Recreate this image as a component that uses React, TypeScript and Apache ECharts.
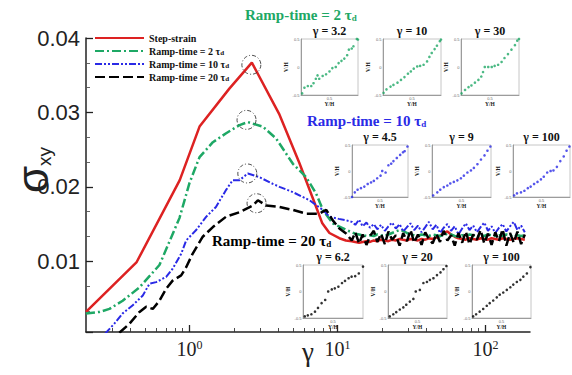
import React, { useEffect, useRef } from 'react';
import * as echarts from 'echarts';

// ---------- main curves (shear stress vs strain) ----------
const RED_X = [0.2, 0.44, 0.86, 1.17, 1.86, 2.64, 4.06, 5.53, 7.18, 7.9, 8.83, 10.3, 11.4];
const RED_Y = [0.0032, 0.0099, 0.0209, 0.0281, 0.0332, 0.0367, 0.0297, 0.0232, 0.0173, 0.0151, 0.0138, 0.0131, 0.0128];

const GREEN_X = [0.2, 0.247, 0.288, 0.354, 0.46, 0.627, 0.856, 1.0, 1.17, 1.44, 1.77, 2.18, 2.48, 3.13, 3.85, 5.0, 6.15, 7.18, 7.97, 9.3, 11.5];
const GREEN_Y = [0.003, 0.0032, 0.0036, 0.0047, 0.0065, 0.0095, 0.0158, 0.0205, 0.024, 0.026, 0.0272, 0.0283, 0.0287, 0.0281, 0.0265, 0.0231, 0.0213, 0.0191, 0.0169, 0.0151, 0.0142];

const BLUE_X = [0.27, 0.31, 0.354, 0.414, 0.484, 0.537, 0.596, 0.696, 0.77, 0.879, 0.95, 1.11, 1.3, 1.51, 1.77, 1.96, 2.18, 2.48, 2.97, 3.66, 4.06, 4.99, 6.47, 7.97, 8.83, 10.2, 11.5];
const BLUE_Y = [0.0003, 0.0016, 0.003, 0.0041, 0.0054, 0.007, 0.0072, 0.0079, 0.009, 0.011, 0.0128, 0.0142, 0.016, 0.0173, 0.0196, 0.0209, 0.0209, 0.0218, 0.0213, 0.0204, 0.02, 0.0193, 0.0182, 0.0169, 0.016, 0.0157, 0.0155];

const BLACK_X = [0.336, 0.393, 0.46, 0.51, 0.565, 0.627, 0.696, 0.77, 0.879, 0.95, 1.05, 1.23, 1.44, 1.77, 2.18, 2.68, 2.9, 3.3, 4.06, 5.0, 6.15, 7.55, 8.4, 9.3, 10.3, 11.5];
const BLACK_Y = [0.0004, 0.0016, 0.0032, 0.0039, 0.0036, 0.0047, 0.0063, 0.0074, 0.0081, 0.0092, 0.011, 0.0133, 0.0146, 0.016, 0.0166, 0.0175, 0.0182, 0.0175, 0.0173, 0.0169, 0.0164, 0.0164, 0.0169, 0.0155, 0.0144, 0.0137];

// steady (noisy) plateau, gamma = 12.5 ... 184.5
const PLATEAU_X = [
  12.5, 13.2, 14, 14.8, 15.7, 16.6, 17.6, 18.6,
  19.7, 20.9, 22.1, 23.4, 24.8, 26.3, 27.8, 29.5,
  31.2, 33, 35, 37, 39.2, 41.5, 44, 46.6,
  49.3, 52.2, 55.3, 58.6, 62, 65.7, 69.6, 73.7,
  78, 82.6, 87.5, 92.7, 98.2, 104, 110, 116.5,
  123.4, 130.7, 138.4, 146.6, 155.3, 164.5, 174.2, 184.5,
];
const RED_PLATEAU = [
  0.0127, 0.0126, 0.0125, 0.0126, 0.0127, 0.0126, 0.0128, 0.0127,
  0.0129, 0.0128, 0.0127, 0.0129, 0.0128, 0.013, 0.0129, 0.0128,
  0.013, 0.0129, 0.0128, 0.013, 0.0129, 0.0131, 0.013, 0.0132,
  0.0134, 0.0138, 0.014, 0.0136, 0.0133, 0.0131, 0.013, 0.0129,
  0.0131, 0.013, 0.0129, 0.0131, 0.013, 0.0129, 0.0131, 0.013,
  0.0129, 0.0131, 0.013, 0.0129, 0.013, 0.0131, 0.013, 0.0129,
];
const GREEN_PLATEAU = [
  0.0139, 0.0137, 0.0136, 0.0135, 0.0134, 0.0135, 0.0134, 0.0136,
  0.0135, 0.0134, 0.0136, 0.0138, 0.014, 0.0142, 0.0141, 0.0138,
  0.0136, 0.0135, 0.0134, 0.0136, 0.0135, 0.0134, 0.0136, 0.0135,
  0.0134, 0.0135, 0.0137, 0.0136, 0.0134, 0.0133, 0.0135, 0.0134,
  0.0136, 0.0135, 0.0133, 0.0135, 0.0134, 0.0136, 0.0135, 0.0134,
  0.0135, 0.0134, 0.0136, 0.0135, 0.0133, 0.0135, 0.0134, 0.0135,
];
const BLUE_PLATEAU = [
  0.0153, 0.0149, 0.0156, 0.0147, 0.0152, 0.0145, 0.015, 0.0143,
  0.0149, 0.0141, 0.0147, 0.0152, 0.0144, 0.015, 0.014, 0.0146,
  0.0151, 0.0142, 0.0148, 0.0139, 0.0146, 0.0153, 0.0143, 0.0149,
  0.0138, 0.0145, 0.015, 0.0141, 0.0147, 0.0136, 0.0144, 0.0151,
  0.0142, 0.0148, 0.0139, 0.0146, 0.0152, 0.0141, 0.0147, 0.0138,
  0.0145, 0.015, 0.014, 0.0147, 0.0153, 0.0142, 0.0148, 0.0139,
];
const BLACK_PLATEAU = [
  0.0128, 0.0139, 0.0124, 0.0136, 0.0122, 0.0134, 0.0141, 0.0126,
  0.0137, 0.0123, 0.014, 0.0129, 0.0135, 0.0121, 0.0138, 0.0127,
  0.0142, 0.0125, 0.0136, 0.0122, 0.0139, 0.013, 0.0124, 0.0137,
  0.0126, 0.0141, 0.0128, 0.0135, 0.0121, 0.0138, 0.0125, 0.014,
  0.0123, 0.0136, 0.0129, 0.0142, 0.0124, 0.0137, 0.0122, 0.0139,
  0.0127, 0.0143, 0.0121, 0.0138, 0.0125, 0.014, 0.0123, 0.0136,
];

// peaks marked with dashed circles
const PEAK_X = [2.62, 2.43, 2.46, 2.84];
const PEAK_Y = [0.0364, 0.029, 0.0218, 0.0178];

const SERIES_NAMES = ['Step-strain', 'Ramp-time = 2 τd', 'Ramp-time = 10 τd', 'Ramp-time = 20 τd'];
const MAJOR_X_TICKS = [1, 10, 100];
const MINOR_X_TICKS = [0.3, 0.4, 0.5, 0.6, 0.7, 0.8, 0.9, 2, 3, 4, 5, 6, 7, 8, 9, 20, 30, 40, 50, 60, 70, 80, 90];

// ---------- inset velocity profiles (Y/H, Vx/H) ----------
const INSET_TITLES = ['γ = 3.2', 'γ = 10', 'γ = 30', 'γ = 4.5', 'γ = 9', 'γ = 100', 'γ = 6.2', 'γ = 20', 'γ = 100'];
const P_G1 = [[0.02, -0.47], [0.06, -0.37], [0.12, -0.34], [0.18, -0.34], [0.22, -0.29], [0.26, -0.21], [0.29, -0.15], [0.32, -0.21], [0.38, -0.16], [0.44, -0.13], [0.5, -0.08], [0.55, -0.02], [0.61, 0.0], [0.66, 0.07], [0.71, 0.11], [0.76, 0.15], [0.81, 0.21], [0.84, 0.31], [0.89, 0.33], [0.92, 0.37], [0.98, 0.5], [1.0, 0.49]];
const P_G2 = [[0.01, -0.46], [0.06, -0.4], [0.13, -0.35], [0.18, -0.32], [0.25, -0.28], [0.31, -0.23], [0.37, -0.18], [0.43, -0.12], [0.48, -0.08], [0.53, -0.03], [0.59, 0.01], [0.64, 0.02], [0.7, 0.04], [0.76, 0.1], [0.8, 0.18], [0.84, 0.25], [0.89, 0.32], [0.93, 0.38], [0.98, 0.46], [1.0, 0.49]];
const P_G3 = [[0.01, -0.47], [0.07, -0.41], [0.13, -0.36], [0.18, -0.33], [0.24, -0.28], [0.3, -0.23], [0.35, -0.17], [0.38, -0.09], [0.41, 0.0], [0.47, 0.0], [0.53, 0.0], [0.58, 0.02], [0.64, 0.04], [0.7, 0.09], [0.75, 0.16], [0.81, 0.23], [0.87, 0.31], [0.93, 0.39], [0.97, 0.47], [1.0, 0.5]];
const P_B1 = [[0.0, -0.5], [0.05, -0.41], [0.1, -0.36], [0.16, -0.33], [0.22, -0.3], [0.28, -0.25], [0.34, -0.22], [0.39, -0.19], [0.45, -0.14], [0.51, -0.09], [0.54, 0.0], [0.6, -0.03], [0.65, 0.11], [0.7, 0.14], [0.74, 0.19], [0.8, 0.25], [0.86, 0.31], [0.91, 0.36], [0.94, 0.38], [0.99, 0.47]];
const P_B2 = [[0.02, -0.47], [0.09, -0.41], [0.14, -0.36], [0.2, -0.31], [0.26, -0.28], [0.31, -0.24], [0.37, -0.21], [0.43, -0.18], [0.49, -0.14], [0.54, -0.09], [0.6, -0.03], [0.66, 0.01], [0.71, 0.06], [0.77, 0.13], [0.83, 0.22], [0.89, 0.3], [0.94, 0.39], [0.99, 0.47]];
const P_B3 = [[0.02, -0.47], [0.07, -0.43], [0.14, -0.41], [0.2, -0.38], [0.26, -0.33], [0.31, -0.3], [0.37, -0.25], [0.43, -0.21], [0.49, -0.16], [0.54, -0.11], [0.6, -0.03], [0.66, 0.0], [0.71, 0.01], [0.77, 0.08], [0.83, 0.19], [0.89, 0.28], [0.94, 0.39], [0.99, 0.47]];
const P_K1 = [[0.03, -0.47], [0.08, -0.45], [0.14, -0.43], [0.2, -0.38], [0.25, -0.31], [0.31, -0.22], [0.37, -0.16], [0.42, 0.0], [0.48, 0.04], [0.53, 0.06], [0.59, 0.09], [0.65, 0.16], [0.7, 0.2], [0.76, 0.25], [0.81, 0.28], [0.87, 0.29], [0.93, 0.34], [1.0, 0.47]];
const P_K2 = [[0.03, -0.47], [0.09, -0.43], [0.14, -0.39], [0.2, -0.34], [0.26, -0.3], [0.31, -0.25], [0.37, -0.19], [0.43, -0.14], [0.47, 0.0], [0.54, 0.03], [0.6, 0.16], [0.66, 0.18], [0.71, 0.22], [0.77, 0.25], [0.83, 0.31], [0.89, 0.36], [0.94, 0.42], [0.99, 0.48]];
const P_K3 = [[0.02, -0.47], [0.07, -0.43], [0.13, -0.38], [0.19, -0.33], [0.25, -0.27], [0.3, -0.22], [0.36, -0.17], [0.42, -0.11], [0.47, -0.06], [0.53, -0.02], [0.59, 0.03], [0.65, 0.08], [0.7, 0.13], [0.76, 0.18], [0.82, 0.22], [0.87, 0.28], [0.93, 0.34], [0.99, 0.46]];
const PROFILES = [P_G1, P_G2, P_G3, P_B1, P_B2, P_B3, P_K1, P_K2, P_K3];

// ---------- layout & style ----------
const RED = '#dd2222';
const GREEN = '#1ea865';
const BLUE = '#2a2ae6';
const BLACK = '#000000';
const SERIF = '"Liberation Serif", "Times New Roman", serif';
const SANS = '"Liberation Sans", Arial, sans-serif';
const INSET_COLORS = [GREEN, GREEN, GREEN, BLUE, BLUE, BLUE, BLACK, BLACK, BLACK];
const INSET_BOXES = [
  { left: 301, top: 39, width: 57, height: 56 },
  { left: 383, top: 39, width: 58, height: 56 },
  { left: 461, top: 39, width: 58, height: 56 },
  { left: 352, top: 145, width: 56, height: 52 },
  { left: 432, top: 145, width: 59, height: 52 },
  { left: 513, top: 145, width: 57, height: 52 },
  { left: 303, top: 265, width: 60, height: 53 },
  { left: 388, top: 265, width: 59, height: 53 },
  { left: 472, top: 265, width: 59, height: 53 },
];

const zip = (xs: number[], ys: number[]) => xs.map((x, i) => [x, ys[i]]);

function powLabel(v: number) {
  const l = Math.log10(v);
  const e = Math.round(l);
  if (Math.abs(l - e) < 1e-6 && v > 0.5 && v < 150) return `{b|10}{s|${e}}`;
  return '';
}

function rampLabel(text: string, color: string, x: number, y: number) {
  return {
    type: 'text',
    x,
    y,
    z: 20,
    style: {
      text: `{a|${text}}{b|d}`,
      align: 'left',
      verticalAlign: 'middle',
      rich: {
        a: { fontSize: 15, fontWeight: 'bold', fontFamily: SERIF, fill: color },
        b: { fontSize: 9, fontWeight: 'bold', fontFamily: SERIF, fill: color, verticalAlign: 'bottom' },
      },
    },
  };
}

function buildOption() {
  const grids: any[] = [{ left: 86, top: 38, width: 444, height: 294, outerBoundsMode: 'none', containLabel: false }];
  const xAxes: any[] = [
    {
      type: 'log',
      logBase: 10,
      gridIndex: 0,
      min: 0.2,
      max: 200,
      position: 'bottom',
      axisLine: { show: true, onZero: false, lineStyle: { color: '#222', width: 1.5 } },
      axisTick: { show: false },
      minorTick: { show: false },
      splitLine: { show: false },
      axisLabel: {
        margin: 7,
        formatter: powLabel,
        rich: {
          b: { fontSize: 20, fontFamily: SERIF, color: '#222' },
          s: { fontSize: 12, fontFamily: SERIF, color: '#222', verticalAlign: 'top' },
        },
      },
    },
    {
      type: 'value',
      gridIndex: 0,
      min: Math.log10(0.2),
      max: Math.log10(200),
      position: 'bottom',
      axisLine: { show: false, onZero: false },
      axisLabel: { show: false },
      splitLine: { show: false },
      axisTick: { show: true, inside: true, length: 7, lineStyle: { color: '#222', width: 1.3 }, customValues: MAJOR_X_TICKS.map((v) => Math.log10(v)) },
    },
    {
      type: 'value',
      gridIndex: 0,
      min: Math.log10(0.2),
      max: Math.log10(200),
      position: 'bottom',
      axisLine: { show: false, onZero: false },
      axisLabel: { show: false },
      splitLine: { show: false },
      axisTick: { show: true, inside: true, length: 4, lineStyle: { color: '#333', width: 0.9 }, customValues: MINOR_X_TICKS.map((v) => Math.log10(v)) },
    },
  ];
  const yAxes: any[] = [
    {
      type: 'value',
      gridIndex: 0,
      min: 0.0005,
      max: 0.04,
      splitNumber: 4,
      position: 'left',
      axisLine: { show: true, onZero: false, lineStyle: { color: '#222', width: 1.5 } },
      axisTick: { show: true, inside: true, length: 7, lineStyle: { color: '#222', width: 1.3 } },
      minorTick: { show: true, splitNumber: 3, length: 4, lineStyle: { color: '#555', width: 0.9 } },
      splitLine: { show: false },
      axisLabel: {
        margin: 6,
        fontSize: 22,
        fontFamily: SANS,
        color: '#222',
        formatter: (v: number) => (v < 0.005 ? '' : v.toFixed(2)),
      },
    },
  ];

  const series: any[] = [
    {
      name: SERIES_NAMES[0], type: 'line', xAxisIndex: 0, yAxisIndex: 0, symbol: 'none', color: RED,
      data: zip(RED_X.concat(PLATEAU_X), RED_Y.concat(RED_PLATEAU)),
      lineStyle: { color: RED, width: 2.5 }, z: 2,
    },
    {
      name: SERIES_NAMES[1], type: 'line', xAxisIndex: 0, yAxisIndex: 0, symbol: 'none', color: GREEN,
      data: zip(GREEN_X.concat(PLATEAU_X), GREEN_Y.concat(GREEN_PLATEAU)),
      lineStyle: { color: GREEN, width: 2.5, type: [9, 3, 2, 3] }, z: 3,
    },
    {
      name: SERIES_NAMES[2], type: 'line', xAxisIndex: 0, yAxisIndex: 0, symbol: 'none', color: BLUE,
      data: zip(BLUE_X.concat(PLATEAU_X), BLUE_Y.concat(BLUE_PLATEAU)),
      lineStyle: { color: BLUE, width: 2, type: [7, 2, 2, 2, 2, 2] }, z: 4,
    },
    {
      name: SERIES_NAMES[3], type: 'line', xAxisIndex: 0, yAxisIndex: 0, symbol: 'none', color: BLACK,
      data: zip(BLACK_X.concat(PLATEAU_X), BLACK_Y.concat(BLACK_PLATEAU)),
      lineStyle: { color: BLACK, width: 2.5, type: [10, 4] }, z: 5,
    },
    {
      type: 'scatter', xAxisIndex: 0, yAxisIndex: 0, silent: true, symbol: 'circle', symbolSize: 19,
      data: zip(PEAK_X, PEAK_Y),
      itemStyle: { color: 'rgba(0,0,0,0)', borderColor: '#222', borderWidth: 1, borderType: [4, 2, 1, 2] }, z: 6,
    },
  ];

  const graphics: any[] = [
    {
      type: 'text', x: 32, y: 170, rotation: Math.PI / 2, z: 20,
      style: {
        text: '{s|σ}{b|xy}', align: 'center', verticalAlign: 'middle',
        rich: {
          s: { fontSize: 44, fontFamily: SANS, fill: '#222' },
          b: { fontSize: 19, fontFamily: SANS, fill: '#222', verticalAlign: 'bottom' },
        },
      },
    },
    {
      type: 'text', x: 308, y: 352, z: 20,
      style: { text: 'γ', align: 'center', verticalAlign: 'middle', fontSize: 27, fontFamily: SERIF, fill: '#222' },
    },
    rampLabel('Ramp-time = 2 τ', GREEN, 245, 15),
    rampLabel('Ramp-time = 10 τ', BLUE, 307, 121),
    rampLabel('Ramp-time = 20 τ', BLACK, 212, 241),
  ];

  INSET_BOXES.forEach((b, i) => {
    grids.push({ left: b.left, top: b.top, width: b.width, height: b.height, show: true, borderColor: '#b8b8b8', borderWidth: 0.8, backgroundColor: '#fff', outerBoundsMode: 'none', containLabel: false });
    xAxes.push({
      type: 'value', gridIndex: i + 1, min: 0, max: 1, interval: 0.5, position: 'bottom',
      axisLine: { show: true, onZero: false, lineStyle: { color: '#8a8a8a', width: 0.8 } },
      axisTick: { show: false }, splitLine: { show: false },
      axisLabel: { fontSize: 4, color: '#666', margin: 1, formatter: (v: number) => (Math.abs(v - 0.5) < 1e-9 ? '0.5' : '') },
      name: 'Y/H', nameLocation: 'middle', nameGap: 6,
      nameTextStyle: { fontSize: 5.5, fontWeight: 'bold', fontFamily: SERIF, color: '#222' },
    });
    yAxes.push({
      type: 'value', gridIndex: i + 1, min: -0.5, max: 0.5, interval: 0.5, position: 'left',
      axisLine: { show: true, onZero: false, lineStyle: { color: '#8a8a8a', width: 0.8 } },
      axisTick: { show: false }, splitLine: { show: false },
      axisLabel: { fontSize: 4, color: '#666', margin: 1.5 },
      name: 'V/H', nameLocation: 'middle', nameGap: 9, nameRotate: 90,
      nameTextStyle: { fontSize: 5.5, fontWeight: 'bold', fontFamily: SERIF, color: '#222' },
    });
    series.push({
      type: 'scatter', xAxisIndex: i + 3, yAxisIndex: i + 1, symbol: 'circle', symbolSize: 2.6,
      data: PROFILES[i], itemStyle: { color: INSET_COLORS[i] }, silent: true, z: 10,
    });
    graphics.push({
      type: 'text', x: b.left + b.width / 2, y: b.top - 8, z: 20,
      style: { text: INSET_TITLES[i], align: 'center', verticalAlign: 'middle', fontSize: 12, fontWeight: 'bold', fontFamily: SERIF, fill: '#111' },
    });
  });

  return {
    animation: false,
    backgroundColor: '#fff',
    grid: grids,
    xAxis: xAxes,
    yAxis: yAxes,
    legend: {
      data: SERIES_NAMES,
      orient: 'vertical',
      left: 94,
      top: 33,
      itemWidth: 49,
      itemHeight: 10,
      itemGap: 3,
      padding: 0,
      itemStyle: { opacity: 0 },
      textStyle: {
        fontFamily: SERIF, fontWeight: 'bold', fontSize: 10, color: '#111',
        rich: {
          m: { fontSize: 10, fontWeight: 'bold', fontFamily: SERIF, color: '#111' },
          s: { fontSize: 7, fontWeight: 'bold', fontFamily: SERIF, color: '#111', verticalAlign: 'bottom' },
        },
      },
      formatter: (name: string) => (name.endsWith('τd') ? `{m|${name.slice(0, -1)}}{s|d}` : `{m|${name}}`),
    },
    series,
    graphic: graphics,
  };
}

export default function App() {
  const ref = useRef<HTMLDivElement>(null);
  useEffect(() => {
    if (!ref.current) return;
    const chart = echarts.init(ref.current, undefined, { renderer: 'svg' });
    chart.setOption(buildOption() as any);
    return () => chart.dispose();
  }, []);
  return <div ref={ref} style={{ position: 'fixed', left: 0, top: 0, width: 572, height: 375, background: '#fff' }} />;
}
